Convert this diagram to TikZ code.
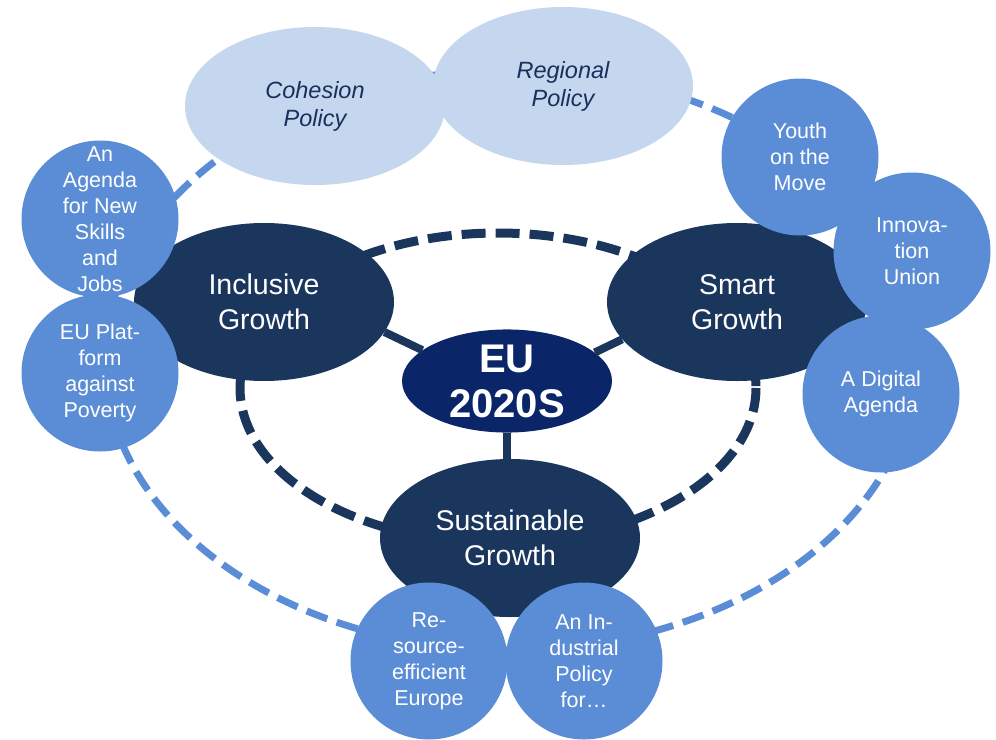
\documentclass[tikz,border=0pt]{standalone}
\usepackage{fontspec}
\setmainfont{Liberation Sans}
\usetikzlibrary{shapes.geometric}
\definecolor{navy}{HTML}{1B365D}
\definecolor{deepnavy}{HTML}{0A2568}
\definecolor{midblue}{HTML}{5B8DD6}
\definecolor{paleblue}{HTML}{C5D7EE}
\definecolor{inknavy}{HTML}{1B2F5C}

\begin{document}
\begin{tikzpicture}[x=1pt,y=-1pt,
  growth/.style={ellipse,fill=navy,text=white,inner sep=0pt,minimum width=260pt,minimum height=158pt,align=center,font=\fontsize{28.5}{35}\selectfont},
  policy/.style={ellipse,fill=paleblue,text=inknavy,inner sep=0pt,minimum width=260pt,minimum height=158pt,align=center,font=\fontsize{23.5}{28}\selectfont\itshape},
  flagship/.style={circle,fill=midblue,text=white,inner sep=0pt,minimum size=157pt,align=center,font=\fontsize{21.5}{26}\selectfont},
  link/.style={navy,line width=8pt}]
\useasboundingbox (0,0) rectangle (996,739);
% rings
\draw [midblue,line width=7pt,dash pattern=on 22pt off 10pt] (510,360) ellipse [x radius=405,y radius=290];
\draw [navy,line width=9pt,dash pattern=on 24pt off 10pt] (498,388) ellipse [x radius=258,y radius=155];
% growth areas
\node [growth] (incl) at (264,302) {Inclusive\\Growth};
\node [growth] (smart) at (737,302) {Smart\\Growth};
\node [growth] (sust) at (510,538) {Sustainable\\Growth};
\node [ellipse,fill=deepnavy,text=white,inner sep=0pt,minimum width=210pt,minimum height=102pt,align=center,font=\fontsize{40}{45}\selectfont\bfseries] (eu) at (507,381) {EU\\2020S};
% policies
\node [policy] (coh) at (315,106) {Cohesion\\Policy};
\node [policy] (reg) at (563,86) {Regional\\Policy};
% flagships
\node [flagship,inner sep=-5pt] (agenda) at (100,219) {An\\Agenda\\for New\\Skills\\and\\Jobs};
\node [flagship] (poverty) at (100,373) {EU Plat-\\form\\against\\Poverty};
\node [flagship] (youth) at (800,157) {Youth\\on the\\Move};
\node [flagship] (innov) at (912,251) {Innova-\\tion\\Union};
\node [flagship] (digital) at (881,394) {A Digital\\Agenda};
\node [flagship] (resource) at (429,661) {Re-\\source-\\efficient\\Europe};
\node [flagship] (industry) at (584,661) {An In-\\dustrial\\Policy\\for…};
% spokes
\draw [link] (eu.160) -- (incl.-14);
\draw [link] (eu.18) -- (smart.198);
\draw [link] (eu.south) -- (eu.south |- sust.north);
\end{tikzpicture}
\end{document}
